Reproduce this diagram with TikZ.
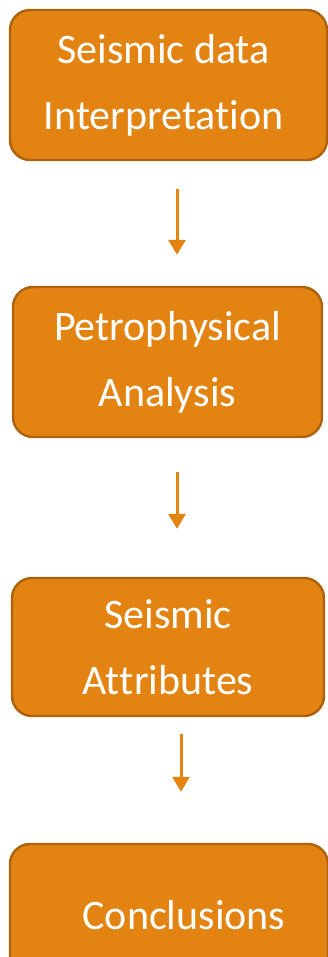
\documentclass[tikz,border=0pt]{standalone}
\usepackage{fontspec}
\setmainfont{Carlito}[Ligatures=NoCommon]
\usepackage{tikz}
\usetikzlibrary{arrows.meta, positioning}

\definecolor{boxfill}{HTML}{E38312}
\definecolor{boxline}{HTML}{AE620F}

\tikzset{
    stagebox/.style={draw=boxline, fill=boxfill, line width=2.4pt, rounded corners=20pt,
        text=white, align=center, font=\fontsize{42}{66}\selectfont, inner sep=0pt},
    flowarrow/.style={draw=boxfill, line width=3pt, -{Triangle[width=17pt, length=15pt]}}
}

\begin{document}
\begin{tikzpicture}[x=1pt, y=-1pt]
        \useasboundingbox (0,0) rectangle (328,957);
        \clip (0,0) rectangle (328,957);

        % --- boxes ---
        \node[stagebox, minimum width=317pt, minimum height=150pt] (interp) at (168.5,85) {Seismic data\hspace*{10pt}\\Interpretat\kern0pt ion\hspace*{10pt}};
        \node[stagebox, minimum width=309pt, minimum height=150pt] (petro) at (167.5,362) {Petrophysical\\Analysis};
        \node[stagebox, minimum width=312pt, minimum height=138pt] (attrib) at (168,647) {Seismic\\At\kern0pt tributes};
        \node[stagebox, minimum width=318pt, minimum height=142pt] (concl) at (169,915) {\hspace*{30pt}Conclusions};

        % --- arrows (short, with gaps) ---
        \draw[flowarrow, shorten <=28pt, shorten >=31pt] (interp.south -| 177,0) -- (petro.north -| 177,0);
        \draw[flowarrow, shorten <=34pt, shorten >=48pt] (petro.south -| 177,0) -- (attrib.north -| 177,0);
        \draw[flowarrow, shorten <=17pt, shorten >=51pt] (attrib.south -| 181,0) -- (concl.north -| 181,0);
    \end{tikzpicture}
\end{document}
